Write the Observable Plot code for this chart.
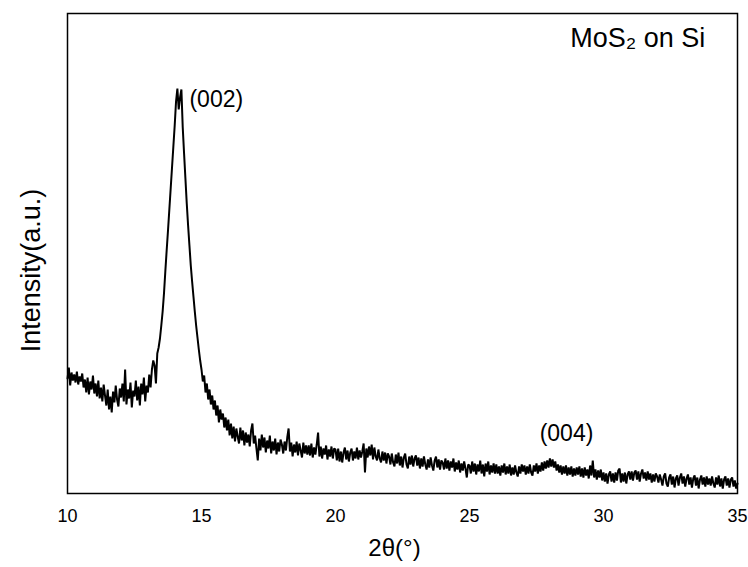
<!DOCTYPE html>
<html>
<head>
<meta charset="utf-8">
<script src="https://cdn.jsdelivr.net/npm/d3@7"></script>
<script src="https://cdn.jsdelivr.net/npm/@observablehq/plot@0.6"></script>
<style>
  html, body { margin: 0; padding: 0; background: #fff; }
  #chart { width: 748px; height: 567px; }
</style>
</head>
<body>
<div id="chart"></div>
<script>
// XRD scan of MoS2 on Si: 2θ from 10° to 35° in steps of 0.05°
const thetaStart = 10;
const thetaStep = 0.05;

// Intensity (a.u.), one row per degree (20 points each)
const intensity = [
  // 10
  115,126,108,121,113,119,111,122,109,117,112,120,106,114,101,116,99,112,104,118,
  // 11
  100,110,97,113,95,106,92,109,98,88,104,84,97,81,102,91,108,94,87,105,
  // 12
  96,110,92,124,89,104,95,111,86,103,97,113,93,107,88,110,99,116,92,108,
  // 13
  101,119,106,124,133,128,110,140,146,155,168,182,200,222,243,263,284,305,326,347,
  // 14
  368,392,405,384,396,404,366,340,315,290,268,248,228,212,197,182,168,156,144,133,
  // 15
  124,112,118,101,110,94,104,89,98,84,93,78,88,71,84,74,80,66,76,63,
  // 16
  74,58,70,55,67,52,65,57,50,66,53,63,48,61,51,59,47,63,70,50,
  // 17
  58,45,33,55,43,59,46,56,41,53,45,58,40,52,43,55,39,51,42,54,
  // 18
  49,40,52,43,56,65,42,51,37,49,41,52,38,50,43,36,51,40,48,39,
  // 19
  48,38,50,36,46,39,49,61,37,47,35,45,39,48,34,44,37,47,35,45,
  // 20
  44,33,45,32,42,31,41,46,34,43,32,41,45,33,42,35,46,34,43,36,
  // 21
  42,50,21,45,36,47,38,49,34,46,37,33,44,35,31,42,33,41,30,40,
  // 22
  37,29,40,31,27,39,30,41,28,37,26,36,40,29,25,37,29,38,27,35,
  // 23
  38,28,36,25,35,27,37,29,24,34,26,36,28,23,33,37,26,34,24,33,
  // 24
  31,24,35,25,33,23,32,26,35,22,31,24,33,21,30,23,32,25,16,29,
  // 25
  28,20,32,22,30,19,29,22,33,20,29,17,30,22,32,19,28,21,30,20,
  // 26
  29,20,27,18,28,21,30,19,27,20,29,18,26,19,28,21,17,27,20,29,
  // 27
  22,28,19,27,20,29,21,18,28,22,30,20,28,22,31,23,32,25,33,26,
  // 28
  35,27,34,26,32,23,29,21,28,19,27,20,28,18,26,19,27,17,25,18,
  // 29
  26,19,27,17,25,16,26,18,24,15,28,18,33,16,24,14,23,16,24,13,
  // 30
  21,12,20,10,19,22,12,20,11,21,13,23,25,11,20,12,21,10,19,22,
  // 31
  14,22,13,21,23,14,22,12,20,24,15,21,13,22,14,20,11,19,12,20,
  // 32
  17,11,19,14,8,17,20,10,7,16,19,9,17,6,15,18,8,16,20,10,
  // 33
  17,7,15,19,9,16,6,15,18,8,16,5,14,18,9,16,7,17,9,15,
  // 34
  8,17,10,6,16,9,18,7,15,5,14,17,8,15,6,14,16,7,13,5,
  // 35
  10
];

const xTicks = [10, 15, 20, 25, 30, 35];
const xDomain = [10, 35];
const yDomain = [0, 480];

const peakLabels = ["(002)", "(004)"];
const peakTheta = [14.55, 28.62];
const peakIntensity = [394, 60];
const sampleTitle = "MoS₂ on Si";
const xLabel = "2θ(°)";
const yLabel = "Intensity(a.u.)";

const scan = intensity.map((v, i) => ({theta: +(thetaStart + i * thetaStep).toFixed(2), counts: v}));
const peaks = peakLabels.map((t, i) => ({label: t, theta: peakTheta[i], counts: peakIntensity[i]}));

const font = "'Liberation Sans', Arial, Helvetica, sans-serif";

const chart = Plot.plot({
  width: 748,
  height: 567,
  marginLeft: 67,
  marginRight: 11,
  marginTop: 13,
  marginBottom: 74,
  style: {fontFamily: font, background: "#fff", color: "#000"},
  x: {domain: xDomain},
  y: {domain: yDomain, axis: null},
  marks: [
    Plot.line(scan, {x: "theta", y: "counts", stroke: "#000", strokeWidth: 2, strokeLinejoin: "miter"}),
    Plot.frame({stroke: "#000", strokeWidth: 1.5}),
    Plot.axisX({ticks: xTicks, tickSize: 0, tickPadding: 16, fontSize: 18, label: null, fill: "#000"}),
    Plot.text(peaks.slice(0, 1), {x: "theta", y: "counts", text: "label", textAnchor: "start", fontSize: 23, fill: "#000"}),
    Plot.text(peaks.slice(1), {x: "theta", y: "counts", text: "label", textAnchor: "middle", fontSize: 23, fill: "#000"}),
    Plot.text([sampleTitle], {x: 33.8, y: 455, text: d => d, textAnchor: "end", fontSize: 27, fill: "#000"}),
    Plot.text([xLabel], {frameAnchor: "bottom", lineAnchor: "middle", dy: 55, dx: -8, text: d => d, fontSize: 24, fill: "#000"}),
    Plot.text([yLabel], {frameAnchor: "left", textAnchor: "middle", lineAnchor: "middle", rotate: -90, dx: -36, dy: 17, text: d => d, fontSize: 27, fill: "#000"})
  ]
});

document.getElementById("chart").appendChild(chart);
</script>
</body>
</html>
